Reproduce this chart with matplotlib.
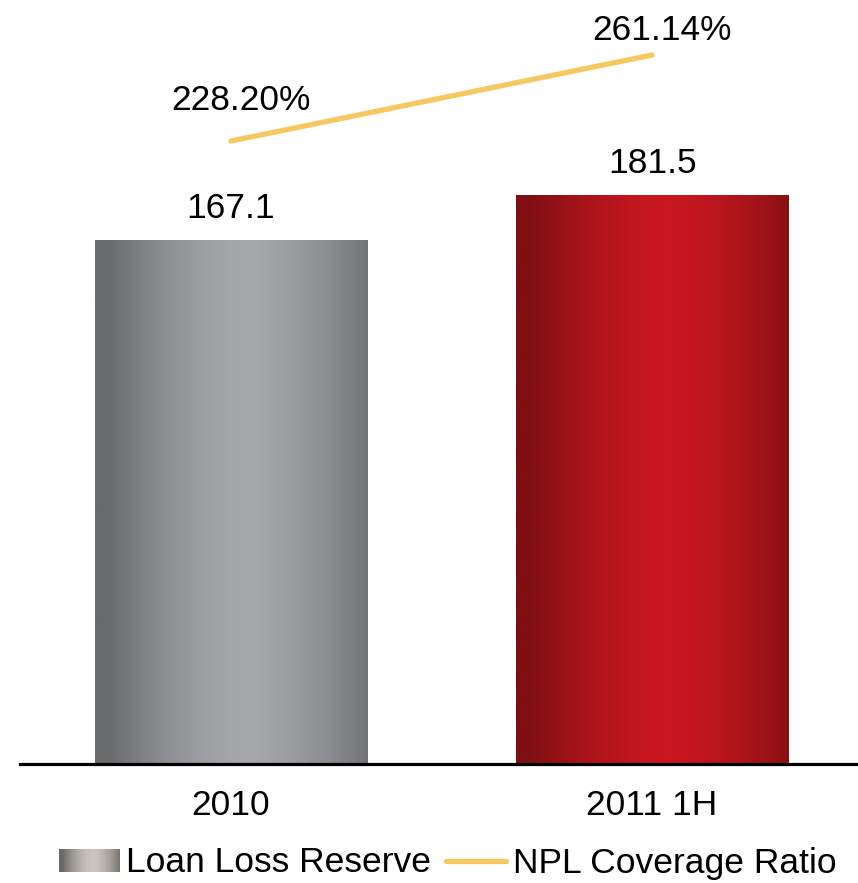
import matplotlib.pyplot as plt
import numpy as np
from matplotlib.legend_handler import HandlerBase
from matplotlib.image import BboxImage
from matplotlib.transforms import Bbox, TransformedBbox
from matplotlib.colors import LinearSegmentedColormap
from matplotlib.patches import Rectangle
from matplotlib.lines import Line2D

# dane
categories = ['2010', '2011 1H']
reserve = [167.1, 181.5]
coverage = [228.20, 261.14]
reserve_labels = ['167.1', '181.5']
coverage_labels = ['228.20%', '261.14%']

plt.rcParams['font.family'] = ['Liberation Sans', 'DejaVu Sans']
FS = 25.5

gray_cmap = LinearSegmentedColormap.from_list('g', ['#6a6b6d', '#a6a7ab'])
red_cmap = LinearSegmentedColormap.from_list('r', ['#7f0f13', '#c9171f'])
legend_cmap = LinearSegmentedColormap.from_list('l', ['#6b6764', '#cbc6c0'])


def gradient_row(n=256):
    t = np.linspace(0, 1, n)
    g = 1 - np.abs(2 * t - 1.1) ** 1.6
    return np.clip(g, 0, 1).reshape(1, -1)


class GradientHandler(HandlerBase):
    def __init__(self, cmap):
        super().__init__()
        self.cmap = cmap

    def create_artists(self, legend, orig_handle, xdescent, ydescent,
                       width, height, fontsize, trans):
        bb = Bbox.from_bounds(-xdescent, -ydescent, width, height)
        img = BboxImage(TransformedBbox(bb, trans), cmap=self.cmap,
                        interpolation='bilinear')
        img.set_data(gradient_row())
        return [img]


fig = plt.figure(figsize=(8.58, 8.83), dpi=100)
ax = fig.add_axes([20 / 858, 119 / 883, 838 / 858, 764 / 883])

x = np.arange(len(categories))
bars = ax.bar(x, reserve, width=0.646, facecolor='none', edgecolor='none')
for bar, cmap in zip(bars, [gray_cmap, red_cmap]):
    x0, w, h = bar.get_x(), bar.get_width(), bar.get_height()
    im = ax.imshow(gradient_row(), cmap=cmap, aspect='auto',
                   extent=(x0, x0 + w, 0, h), interpolation='bilinear',
                   zorder=2)
    im.set_clip_path(bar)

for xi, v, lab in zip(x, reserve, reserve_labels):
    ax.annotate(lab, (xi, v), xytext=(0, 16), textcoords='offset points',
                ha='center', va='baseline', fontsize=FS)

ax.set_xlim(-0.501, 1.489)
ax.set_ylim(0, 243.6)
ax.set_xticks(x)
ax.set_xticklabels(categories, fontsize=FS)
ax.tick_params(axis='x', length=0, pad=18)
ax.set_yticks([])
for s in ['top', 'left', 'right']:
    ax.spines[s].set_visible(False)
ax.spines['bottom'].set_linewidth(2.3)
ax.spines['bottom'].set_zorder(5)

ax2 = ax.twinx()
ax2.plot(x, coverage, color='#f5c860', linewidth=3.8, solid_capstyle='round')
ax2.set_ylim(-10.4, 282.2)
ax2.axis('off')
offsets = [(7, 22), (7, 11)]
for xi, v, lab, off in zip(x, coverage, coverage_labels, offsets):
    ax2.annotate(lab, (xi, v), xytext=off, textcoords='offset points',
                 ha='center', va='baseline', fontsize=FS)

h1 = Rectangle((0, 0), 1, 1)
h2 = Line2D([], [], color='#f5c860', linewidth=3.8, solid_capstyle='round')
fig.legend([h1, h2], ['Loan Loss Reserve', 'NPL Coverage Ratio'],
           handler_map={h1: GradientHandler(legend_cmap)},
           loc='center', bbox_to_anchor=(448 / 858, 1 - 863 / 883),
           ncol=2, frameon=False, fontsize=FS, handlelength=1.7,
           handleheight=0.62, handletextpad=0.2, columnspacing=0.42,
           borderpad=0)

fig.savefig('out.png', dpi=100)
